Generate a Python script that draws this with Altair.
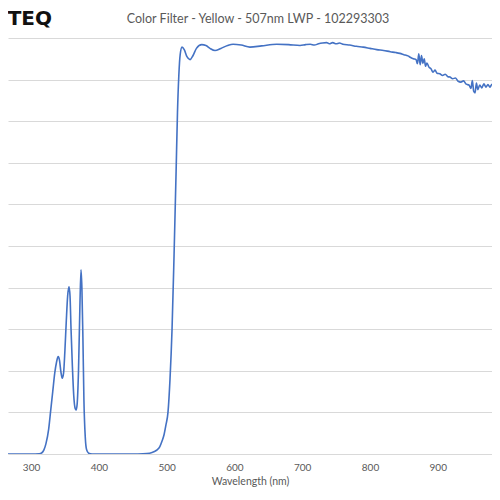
import altair as alt
import pandas as pd

wavelength = [
    255, 300, 312, 316, 319, 322, 326, 329, 332, 335, 337.5, 340, 342, 344, 346, 348,
    350, 352, 354, 356, 357.5, 359, 361, 363, 365, 366.5, 368, 370, 372, 373.7, 375,
    376.5, 378, 380, 382, 385, 390, 420, 450, 465, 475, 482, 486, 490, 493, 496,
    499, 502, 505, 508, 511, 514, 516, 518, 520, 522.7, 526, 530, 534.5, 539, 544,
    551.8, 558, 564, 571.4, 580, 590, 598, 610, 623, 640, 662.4, 680, 696.8, 705,
    712, 718, 724, 730, 736, 740, 745, 750, 755, 760, 770, 780, 790, 800, 810, 820,
    830, 838, 844, 850, 856, 860, 864, 868, 870, 872, 874, 876, 878, 880, 882, 884,
    887, 890, 893, 896, 899, 903, 907, 911, 915, 918, 922, 926, 930, 934, 938, 942,
    946, 949, 951, 953, 955, 957, 959, 962, 965, 968, 971, 974, 977, 980, 985, 992,
]
transmission = [
    0, 0, 0.05, 0.3, 1.0, 2.5, 6, 10.5, 15, 19.5, 22, 23.4, 22.5, 19.8, 18.2, 19.5,
    25, 32, 38, 40.2, 38, 30, 21, 14, 11, 10.6, 12, 20, 35, 44.3, 40,
    28, 13, 4, 1, 0.2, 0, 0, 0, 0.05, 0.2, 0.6, 1.0, 1.8, 3.0, 4.5,
    7, 10, 18, 30, 48, 68, 82, 91, 96, 97.8, 97.2, 95.5, 94.8, 95.8, 97.5,
    98.4, 98.2, 97.5, 97.0, 97.5, 98.2, 98.5, 98.3, 97.8, 98.1, 98.5, 98.4, 98.2, 98.4,
    98.5, 98.3, 98.6, 98.8, 98.9, 98.6, 98.9, 98.6, 98.8, 98.5, 98.3, 98.0, 97.8, 97.5, 97.2, 97.0,
    96.7, 96.5, 96.3, 96.0, 95.7, 95.3, 95.0, 94.8, 93.8, 96.2, 93.6, 95.8, 93.9, 95.0, 93.2, 94.0,
    93.0, 92.6, 91.8, 92.3, 91.5, 91.4, 91.0, 91.3, 90.7, 90.6, 90.2, 90.4, 89.6, 89.4, 89.7, 88.9,
    88.7, 87.9, 89.8, 87.2, 86.8, 89.2, 87.6, 88.7, 88.0, 89.0, 88.2, 88.8, 88.2, 88.9, 88.3, 88.0,
]
x_ticks = [300, 400, 500, 600, 700, 800, 900]
chart_title = "Color Filter - Yellow - 507nm LWP - 102293303"
logo_text = "TEQ"

df = pd.DataFrame({"wl": wavelength, "t": transmission})

W, H = 484, 416

line = alt.Chart(df).mark_line(
    color="#4472C4", strokeWidth=1.6, interpolate="monotone", clip=True
).encode(
    x=alt.X("wl:Q", scale=alt.Scale(domain=[266, 980], nice=False, zero=False),
            axis=alt.Axis(values=x_ticks, title="Wavelength (nm)", grid=False, ticks=False,
                          domain=True, domainColor="#d9d9d9", domainWidth=1.2,
                          labelColor="#595959", labelFontSize=10, labelFont="Lato",
                          labelPadding=8, titleColor="#595959", titleFontSize=10.5,
                          titleFont="Lato", titleFontWeight="normal", titlePadding=4)),
    y=alt.Y("t:Q", scale=alt.Scale(domain=[0, 100], nice=False),
            axis=alt.Axis(values=list(range(0, 101, 10)), labels=False, ticks=False,
                          domain=False, title=None, grid=True, gridColor="#d9d9d9",
                          gridWidth=1)),
)

title_df = pd.DataFrame({"txt": [chart_title]})
title_mark = alt.Chart(title_df).mark_text(
    font="Lato", fontSize=12.5, color="#595959", align="center", baseline="middle"
).encode(x=alt.value(250), y=alt.value(-19), text="txt:N")

logo_df = pd.DataFrame({"txt": [logo_text]})
logo_mark = alt.Chart(logo_df).mark_text(
    font="DejaVu Sans", fontSize=20, fontWeight="bold", color="#111111",
    align="right", baseline="middle"
).encode(x=alt.value(44), y=alt.value(-19), text="txt:N")

chart = alt.layer(line, title_mark, logo_mark).properties(
    width=W, height=H,
    autosize=alt.AutoSizeParams(type="none"),
    padding={"left": 0, "top": 30, "right": 0, "bottom": 34},
).configure_view(stroke=None)

chart.save("out.html", embed_options={"renderer": "svg", "actions": False})
